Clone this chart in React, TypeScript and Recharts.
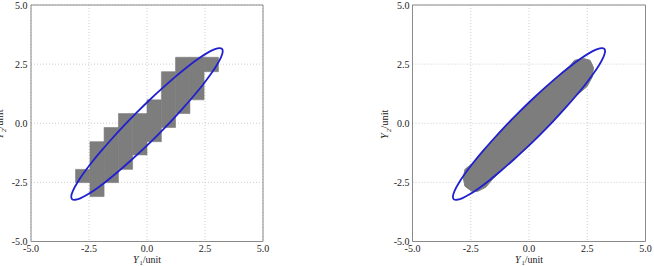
import React from 'react';
import { ScatterChart, Scatter, XAxis, YAxis, CartesianGrid, ReferenceArea } from 'recharts';

const axisTicks = [-5, -2.5, 0, 2.5, 5];

// Left panel: gridded cells, one column per x bin
const colX0 = [-3.08, -2.46, -1.85, -1.23, -0.62, 0, 0.62, 1.23, 1.85, 2.46];
const colX1 = [-2.46, -1.85, -1.23, -0.62, 0, 0.62, 1.23, 1.85, 2.46, 3.08];
const colYLow = [-2.51, -3.1, -2.51, -1.95, -1.34, -0.78, -0.18, 0.41, 0.99, 2.18];
const colYHigh = [-1.95, -0.78, -0.18, 0.41, 0.41, 0.99, 2.18, 2.79, 2.79, 2.79];

// Confidence ellipse outline (both panels)
const ellipseX = [3.25, 3.12, 2.89, 2.58, 2.19, 1.73, 1.22, 0.68, 0.11, -0.46, -1.02, -1.54, -2.02, -2.44, -2.78, -3.04, -3.21, -3.28, -3.25, -3.12, -2.89, -2.58, -2.19, -1.73, -1.22, -0.68, -0.11, 0.46, 1.02, 1.54, 2.02, 2.44, 2.78, 3.04, 3.21, 3.28];
const ellipseY = [3.16, 3.19, 3.13, 2.97, 2.72, 2.38, 1.97, 1.5, 0.99, 0.44, -0.12, -0.68, -1.22, -1.72, -2.17, -2.56, -2.87, -3.09, -3.22, -3.25, -3.19, -3.03, -2.78, -2.44, -2.03, -1.56, -1.05, -0.5, 0.06, 0.62, 1.16, 1.66, 2.11, 2.5, 2.81, 3.03];

// Right panel: sample cloud outline
const blobX = [-2.75, -2.39, -2.02, -1.54, -1.02, -0.46, 0.11, 0.68, 1.22, 1.73, 1.95, 2.34, 2.62, 2.77, 2.71, 2.49, 2.02, 1.54, 1.02, 0.46, -0.11, -0.68, -1.22, -1.55, -1.85, -2.2, -2.46, -2.75, -2.82];
const blobY = [-1.95, -1.67, -1.22, -0.68, -0.12, 0.44, 0.99, 1.5, 1.97, 2.4, 2.66, 2.74, 2.66, 2.35, 1.95, 1.55, 1.16, 0.62, 0.06, -0.5, -1.05, -1.56, -2.03, -2.35, -2.7, -2.88, -2.87, -2.66, -2.31];

const ellipseData = ellipseX.map((x, i) => ({ x, y: ellipseY[i] }));
const blobData = blobX.map((x, i) => ({ x, y: blobY[i] }));

const FONT = "'Liberation Serif', 'Times New Roman', 'DejaVu Serif', serif";
const GRAY = '#7d7d7d';
const BLUE = '#2020d0';
const FRAME = '#8a8a8a';
const TEXT = '#222';

const NoShape = () => <g />;
const fmt = (v: number) => v.toFixed(1);

const XLabel = (props: any) => {
  const vb = props.viewBox || { x: 0, width: 0 };
  const cx = vb.x + vb.width / 2;
  return (
    <text x={cx} y={263} textAnchor="middle" style={{ fontFamily: FONT, fontSize: 10 }} fill={TEXT}>
      <tspan fontStyle="italic">Y</tspan>
      <tspan style={{ fontSize: 6.5 }} dx={1} dy={1.5}>1</tspan>
      <tspan dy={-1.5}>/unit</tspan>
    </text>
  );
};

const makeYLabel = (offset: number) => (props: any) => {
  const vb = props.viewBox || { x: 0, y: 0, width: 0, height: 0 };
  const x = vb.x + vb.width - offset;
  const y = vb.y + vb.height / 2 + 1;
  return (
    <text x={x} y={y} transform={`rotate(-90 ${x} ${y})`} textAnchor="middle" style={{ fontFamily: FONT, fontSize: 10.5 }} fill={TEXT}>
      <tspan fontStyle="italic">Y</tspan>
      <tspan style={{ fontSize: 7 }} dx={1} dy={2.5}>2</tspan>
      <tspan dy={-2.5}>/unit</tspan>
    </text>
  );
};
const YLabelLeft = makeYLabel(28);
const YLabelRight = makeYLabel(24.5);

const tickStyle = { fontSize: 10, fill: TEXT, style: { fontFamily: FONT } };

export default function App() {
  const W = 327;
  const H = 266;
  return (
    <div style={{ position: 'absolute', left: 0, top: 0, width: 654, height: 266, background: '#fff', fontFamily: FONT }}>
      <div style={{ position: 'absolute', left: 0, top: 0 }}>
        <ScatterChart width={W} height={H} margin={{ top: 5, right: 64, bottom: 4.5, left: 6 }} style={{ fontFamily: FONT }}>
          <CartesianGrid stroke="#cdcdcd" strokeDasharray="1 2" />
          <XAxis type="number" dataKey="x" domain={[-5, 5]} ticks={axisTicks} tickFormatter={fmt} height={20}
            tickLine={false} tickSize={0} tickMargin={3} axisLine={false} tick={tickStyle} allowDataOverflow
            interval={0} label={{ content: XLabel }} />
          <YAxis type="number" dataKey="y" domain={[-5, 5]} ticks={axisTicks} tickFormatter={fmt} width={25}
            tickLine={false} tickSize={0} tickMargin={3.5} axisLine={false} tick={tickStyle} allowDataOverflow
            interval={0} label={{ content: YLabelLeft }} />
          {colX0.map((x0, i) => (
            <ReferenceArea key={i} x1={x0} x2={colX1[i]} y1={colYLow[i]} y2={colYHigh[i]}
              fill={GRAY} fillOpacity={1} stroke={GRAY} strokeWidth={0.6} ifOverflow="visible" />
          ))}
          <ReferenceArea x1={-5} x2={5} y1={-5} y2={5} fill="none" fillOpacity={0} stroke={FRAME} strokeWidth={1} ifOverflow="visible" />
          <Scatter data={ellipseData} shape={NoShape} line={{ stroke: BLUE, strokeWidth: 1.8, fill: 'none' }}
            lineJointType="basisClosed" isAnimationActive={false} legendType="none" />
        </ScatterChart>
      </div>
      <div style={{ position: 'absolute', left: 327, top: 0 }}>
        <ScatterChart width={W} height={H} margin={{ top: 5, right: 8.5, bottom: 4.5, left: 55.5 }} style={{ fontFamily: FONT }}>
          <CartesianGrid stroke="#cdcdcd" strokeDasharray="1 2" />
          <XAxis type="number" dataKey="x" domain={[-5, 5]} ticks={axisTicks} tickFormatter={fmt} height={20}
            tickLine={false} tickSize={0} tickMargin={3} axisLine={false} tick={tickStyle} allowDataOverflow
            interval={0} label={{ content: XLabel }} />
          <YAxis type="number" dataKey="y" domain={[-5, 5]} ticks={axisTicks} tickFormatter={fmt} width={30}
            tickLine={false} tickSize={0} tickMargin={3} axisLine={false} tick={tickStyle} allowDataOverflow
            interval={0} label={{ content: YLabelRight }} />
          <ReferenceArea x1={-5} x2={5} y1={-5} y2={5} fill="none" fillOpacity={0} stroke={FRAME} strokeWidth={1} ifOverflow="visible" />
          <Scatter data={blobData} shape={NoShape} line={{ stroke: GRAY, strokeWidth: 1, fill: GRAY }}
            lineJointType="linearClosed" isAnimationActive={false} legendType="none" />
          <Scatter data={ellipseData} shape={NoShape} line={{ stroke: BLUE, strokeWidth: 1.8, fill: 'none' }}
            lineJointType="basisClosed" isAnimationActive={false} legendType="none" />
        </ScatterChart>
      </div>
    </div>
  );
}
